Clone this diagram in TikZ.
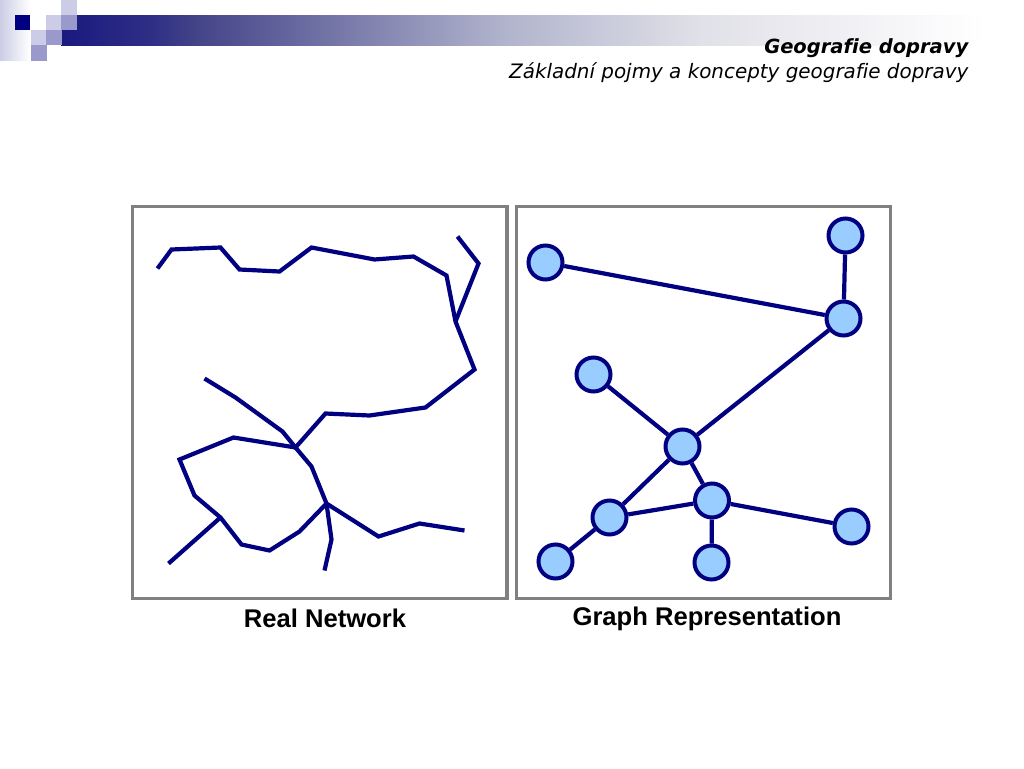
\documentclass[tikz,border=0pt]{standalone}
\usepackage{fontspec}
\setmainfont{Liberation Sans}
\newfontfamily\headfont[Ligatures=NoCommon]{DejaVu Sans}
\usepackage{tikz}
\definecolor{navyline}{RGB}{0,0,128}
\definecolor{nodefill}{RGB}{153,204,255}
\definecolor{framegray}{RGB}{128,128,128}
\definecolor{tilemid}{RGB}{153,153,204}
\definecolor{tilelight}{RGB}{204,204,230}
\pgfdeclarehorizontalshading{bandfade}{100bp}{
	rgb(0bp)=(0.10,0.10,0.50); rgb(25bp)=(0.10,0.10,0.50);
	rgb(29.8bp)=(0.18,0.18,0.52); rgb(32.5bp)=(0.27,0.27,0.54);
	rgb(48.8bp)=(0.69,0.70,0.80); rgb(59.6bp)=(0.88,0.88,0.91);
	rgb(70.4bp)=(0.965,0.965,0.975); rgb(75bp)=(1,1,1); rgb(100bp)=(1,1,1)}
\tikzstyle{vertex} = [circle,draw=navyline,fill=nodefill,line width=4pt,minimum size=34pt,inner sep=0pt]
\tikzstyle{edge} = [navyline,line width=4.2pt]
\tikzstyle{road} = [navyline,line width=4.2pt,line join=miter]
\tikzstyle{frame} = [framegray,line width=3.2pt]
\tikzstyle{caption} = [font=\bfseries\fontsize{25.6}{30}\selectfont,inner sep=0pt,anchor=base]
\tikzstyle{header} = [font=\headfont\itshape\fontsize{19.9}{24}\selectfont,anchor=base east,inner sep=0pt]

\begin{document}
\begin{tikzpicture}[x=1pt,y=-1pt]
		\useasboundingbox (0,0) rectangle (1024,768);
		% banda superior
		\shade[left color=tilelight,right color=white] (0,0) rectangle (30,60);
		\shade[shading=bandfade] (61,15.5) rectangle (985,46);
		\fill[white] (30,0) rectangle (61,60);
		\fill[navyline] (15,15) rectangle (30,30);
		\foreach \Xc/\Yc/\Tono in
		{46/15/tilelight,61/0/tilelight,61/15/tilemid,31/30/tilelight,46/30/tilemid,31/45/tilemid}
		{
			\fill[\Tono] (\Xc,\Yc) rectangle ++(15.5,15.5);
		}
		\node[header] (title) at (968.5,54) {\fontsize{19.5}{24}\selectfont\bfseries Geografie dopravy};
		\node[header] (subtitle) at (968.5,78) {Základní pojmy a koncepty geografie dopravy};
		\begin{scope}[xshift=0.5pt,yshift=-0.5pt]
		% marcos
		\draw[frame] (132,206) rectangle (506.5,598);
		\draw[frame] (516,206) rectangle (890,598);
		% red real
		\draw[road] (157,268) -- (171,249) -- (220,247) -- (239,269) -- (279,271) -- (311,247)
			-- (374,259) -- (413,256) -- (446,275) -- (455,321) -- (474,369) -- (425,407)
			-- (369,415) -- (325,413) -- (295,447) -- (311,466) -- (326,503) -- (378,536)
			-- (419,523) -- (464,530);
		\draw[road] (457,236) -- (478,263) -- (455,321);
		\draw[road] (204,378) -- (235,397) -- (282,431) -- (295,447);
		\draw[road] (295,447) -- (233,437) -- (179,459) -- (194,495) -- (220,517) -- (241,544)
			-- (269,550) -- (299,531) -- (326,503);
		\draw[road] (168,563) -- (220,517);
		\draw[road] (326,503) -- (331,539) -- (324,570);
		% grafo
		\foreach \Nombre/\Xc/\Yc in
		{a/545/262,b/845/235,c/843/318,d/593/374,e/682/446,f/711.5/500,g/609/517,h/555/561,i/711/562,j/851/526}
		{
			\node[vertex] (\Nombre) at (\Xc,\Yc) {};
		}
		\foreach \Xa/\Xb in
		{a/c,b/c,c/e,d/e,e/f,e/g,g/f,g/h,f/i,f/j}
		{
			\draw[edge] (\Xa) -- (\Xb);
		}
		\end{scope}
		\node[caption] (realcap) at (325,627) {Real Network};
		\node[caption] (graphcap) at (707,625) {Graph Representation};
\end{tikzpicture}
\end{document}
